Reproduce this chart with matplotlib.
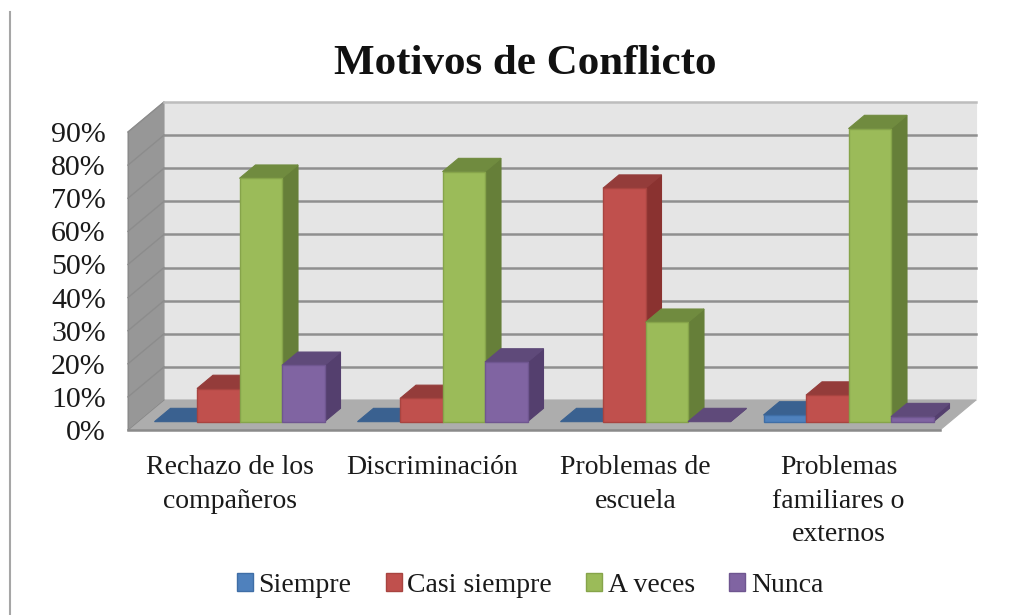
import matplotlib
matplotlib.use("Agg")
import matplotlib.pyplot as plt
from matplotlib.patches import Polygon, Patch
from matplotlib.lines import Line2D

title = "Motivos de Conflicto"
categories = ["Rechazo de los\ncompañeros", "Discriminación", "Problemas de\nescuela",
              "Problemas\nfamiliares o\nexternos"]
series_names = ["Siempre", "Casi siempre", "A veces", "Nunca"]
siempre = [0, 0, 0, 2]
casi_siempre = [10, 7, 70.5, 8]
a_veces = [73.5, 75.5, 30, 88.5]
nunca = [17, 18, 0, 1.5]
y_ticks = [0, 10, 20, 30, 40, 50, 60, 70, 80, 90]
y_labels = [f"{v}%" for v in y_ticks]

front = ["#4F81BD", "#C0504D", "#9BBB59", "#8064A2"]
dark = ["#3A6190", "#943C3A", "#708B3F", "#5F4A7A"]
side = ["#34587F", "#8A3230", "#667F39", "#543F6E"]
edge = ["#3F6EA6", "#A84440", "#86A44A", "#6F5690"]

W, H = 1027, 615
plt.rcParams["font.family"] = ["Liberation Serif", "DejaVu Serif"]
fig = plt.figure(figsize=(W / 100, H / 100), dpi=100, facecolor="white")
ax = fig.add_axes([128 / W, 1 - 430 / H, 812 / W, 298 / H])
ax.set_xlim(0, 4)
ax.set_ylim(0, 90)
ax.patch.set_visible(False)
for s in ax.spines.values():
    s.set_visible(False)

DX = 36 / 203.0     # depth shift in category units
DY = 30 / 298 * 90  # depth shift in percent units


def pt(x, y, d):
    return (x + d * DX, y + d * DY)


def poly(points, fc, ec=None, z=1, lw=0.8):
    ax.add_patch(Polygon(points, closed=True, facecolor=fc, edgecolor=ec or fc,
                         linewidth=lw, zorder=z, clip_on=False))


# walls and floor
poly([pt(0, 0, 1), pt(4, 0, 1), pt(4, 90, 1), pt(0, 90, 1)], "#E5E5E5", z=1)
poly([pt(0, 0, 0), pt(0, 0, 1), pt(0, 90, 1), pt(0, 90, 0)], "#979797", z=1)
poly([pt(0, 0, 0), pt(4, 0, 0), pt(4, 0, 1), pt(0, 0, 1)], "#ADADAD", z=1)
for v in y_ticks[1:]:
    a, b, c = pt(0, v, 0), pt(0, v, 1), pt(4, v, 1)
    ax.plot([a[0], b[0]], [a[1], b[1]], color="#8C8C8C", lw=1.0, zorder=2, clip_on=False)
    col = "#BDBDBD" if v == 90 else "#8F8F8F"
    ax.plot([b[0], c[0]], [b[1], c[1]], color=col, lw=1.8, zorder=2, clip_on=False)
ax.plot([0, 4], [0, 0], color="#8A8A8A", lw=1.8, zorder=2, clip_on=False)
ax.plot([0, 0], [0, 90], color="#8A8A8A", lw=0.8, zorder=2, clip_on=False)
b = pt(0, 0, 1)
ax.plot([0, b[0]], [0, b[1]], color="#8A8A8A", lw=0.8, zorder=2, clip_on=False)

# bars
D0, D1 = 10 / 36, 26 / 36
BW = 42.5 / 203.0
z = 3
series = [siempre, casi_siempre, a_veces, nunca]
for g in range(len(categories)):
    x0 = g + 0.5 - 2 * BW
    for i, vals in enumerate(series):
        v = vals[g]
        l, r = x0 + i * BW, x0 + (i + 1) * BW
        poly([pt(r, 0, D0), pt(r, 0, D1), pt(r, v, D1), pt(r, v, D0)], side[i], z=z)
        poly([pt(l, v, D0), pt(r, v, D0), pt(r, v, D1), pt(l, v, D1)], dark[i], z=z)
        if v > 0:
            poly([pt(l, 0, D0), pt(r, 0, D0), pt(r, v, D0), pt(l, v, D0)], front[i],
                 ec=edge[i], z=z, lw=1.0)
        z += 1

# axes text
ax.set_yticks(y_ticks, y_labels, fontsize=21.5)
ax.set_xticks([0.5, 1.5, 2.5, 3.5], categories, fontsize=20, linespacing=1.45)
ax.tick_params(axis="y", length=0, pad=16, colors="#1A1A1A")
ax.tick_params(axis="x", length=0, pad=18, colors="#1A1A1A")
for lab in ax.get_xticklabels():
    lab.set_multialignment("center")

fig.text(525 / W, 1 - 64 / H, title, ha="center", va="center", fontsize=31,
         fontweight="bold", color="#111111")

# legend
handles = [Patch(facecolor=front[i], edgecolor=edge[i], label=series_names[i]) for i in range(4)]
fig.legend(handles=handles, ncol=4, loc="center", bbox_to_anchor=(530 / W, 1 - 585 / H),
           frameon=False, fontsize=20, handlelength=0.58, handleheight=0.6,
           handletextpad=0.2, columnspacing=1.23, labelcolor="#1A1A1A")

# frame line on the left
fig.add_artist(Line2D([9.5 / W, 9.5 / W], [1 - 12 / H, 0], color="#A6A6A6", lw=1.5))

fig.savefig("out.png", dpi=100, facecolor="white")
